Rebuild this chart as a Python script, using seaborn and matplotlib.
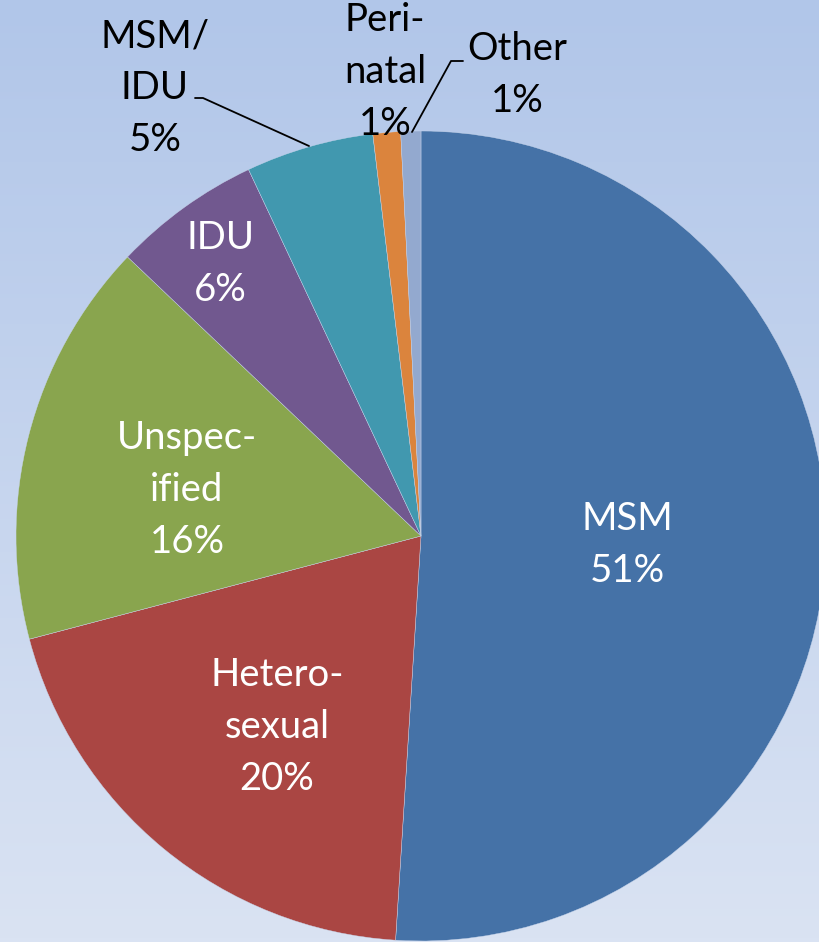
import numpy as np
import matplotlib
matplotlib.use("Agg")
import matplotlib.pyplot as plt
import seaborn as sns

# Data
categories = ["MSM", "Hetero-\nsexual", "Unspec-\nified", "IDU", "MSM/\nIDU", "Peri-\nnatal", "Other"]
shares = [51.0, 19.9, 16.2, 5.9, 5.1, 1.1, 0.8]
colors = ["#4572A7", "#AA4643", "#89A54E", "#71588F", "#4198AF", "#DB843D", "#93A9CF"]

# Label layout (pixel coords, y from top) and text colour
label_pos = [(627, 545), (277, 727), (187, 490), (220, 264), (155, 88), (385, 72), (517, 75)]
label_col = ["white", "white", "white", "white", "black", "black", "black"]

sns.set_style("white")
plt.rcParams['font.family'] = ['Lato', 'DejaVu Sans']

W, H = 819, 942
fig = plt.figure(figsize=(W / 100, H / 100), dpi=100)
ax = fig.add_axes([0, 0, 1, 1])

# Background gradient
grad = np.linspace(0, 1, 256).reshape(-1, 1)
cmap = matplotlib.colors.LinearSegmentedColormap.from_list("bg", ["#B1C6E9", "#DAE3F3"])
ax.imshow(grad, cmap=cmap, extent=[0, W, 0, H], aspect="auto", origin="upper", zorder=0)

cx, cy, r = 421, H - 536, 405
wedges, _ = ax.pie(shares, colors=colors, startangle=90, counterclock=False,
                   center=(cx, cy), radius=r, frame=True,
                   wedgeprops=dict(edgecolor="#C9D6EC", linewidth=0.3))
for w in wedges:
    w.set_zorder(1)
ax.set_xlim(0, W)
ax.set_ylim(0, H)
ax.set_aspect("equal")
ax.axis("off")

for cat, val, (x, y), c in zip(categories, shares, label_pos, label_col):
    ax.text(x, H - y, f"{cat}\n{val:.0f}%", ha="center", va="center", color=c,
            fontsize=27.5, linespacing=1.55, zorder=3)

# Leader lines for the small slices
ax.plot([195, 203, 309], [H - 98, H - 98, H - 146], color="black", lw=1.3, zorder=2)
ax.plot([463, 451, 412], [H - 61, H - 61, H - 132], color="black", lw=1.3, zorder=2)

fig.savefig("out.png", dpi=100)
